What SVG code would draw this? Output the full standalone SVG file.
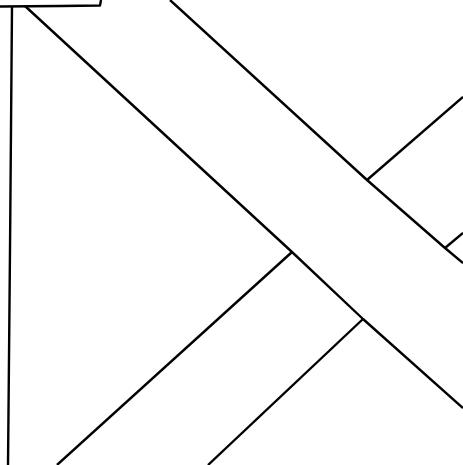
<svg xmlns="http://www.w3.org/2000/svg" width="463" height="465" viewBox="0 0 463 465">
<style>
.l{fill:none;stroke:#000;stroke-width:2.4;stroke-linecap:butt;stroke-linejoin:round}
</style>
<rect width="463" height="465" fill="#fff"/>
<g id="lines">
<polyline class="l" points="0,6.5 60,6 100,5.5 101,0"/>
<polyline class="l" points="12,6 10,250 8,465"/>
<polyline class="l" points="25,6 292,252 363,319 463,408"/>
<polyline class="l" points="170,0 367,180 445,248 463,263"/>
<polyline class="l" points="367,180 463,97"/>
<polyline class="l" points="445,248 463,233"/>
<polyline class="l" points="292,252 57,465"/>
<polyline class="l" points="363,319 208,465"/>
</g>
</svg>
